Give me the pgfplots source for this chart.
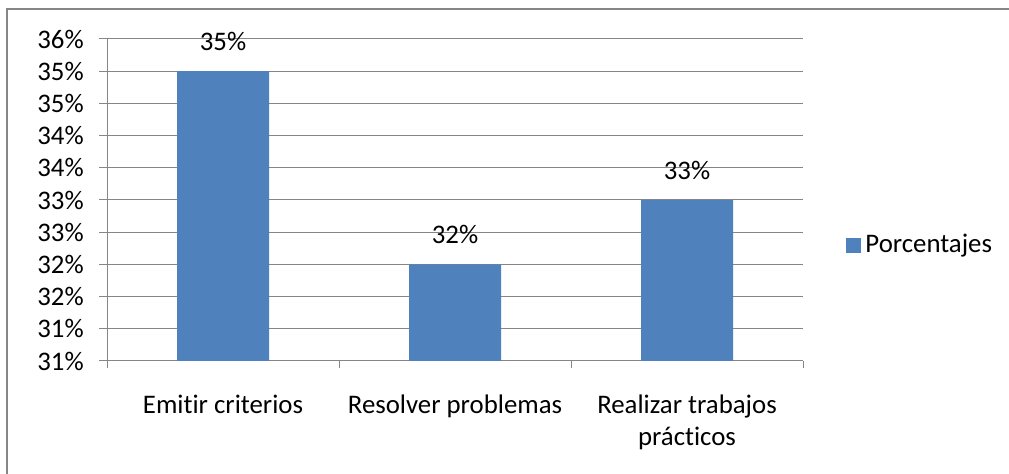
\documentclass[border=0pt]{standalone}
\usepackage{pgfplots}
\pgfplotsset{compat=1.18}
\usepackage{fontspec}
\setmainfont{Carlito}[Ligatures=NoCommon]
\definecolor{barblue}{HTML}{4F81BD}
\definecolor{gridgray}{HTML}{868686}
\begin{document}
\fontsize{13.4bp}{16bp}\selectfont
\begin{tikzpicture}[x=0.5bp,y=0.5bp]
  \useasboundingbox (0,0) rectangle (1009,474);
  % chart frame (bottom and right edges are cut off)
  \draw[gridgray, line width=1bp] (7,0) -- (7,464.5) -- (1009,464.5);
  \begin{axis}[
      at={(53.5bp,56.5bp)}, anchor=south west,
      scale only axis,
      width=348bp, height=161bp,
      ybar, bar width=46bp,
      xmin=0.5, xmax=3.5,
      ymin=30.5, ymax=35.5,
      axis lines=left,
      axis line style={draw=gridgray, line width=0.5bp, -},
      tick align=outside,
      tick style={draw=gridgray, line width=0.5bp},
      major tick length=4bp,
      minor tick length=3.5bp,
      ytick={30.5,31,31.5,32,32.5,33,33.5,34,34.5,35,35.5},
      yticklabels={31\%,31\%,32\%,32\%,33\%,33\%,34\%,34\%,35\%,35\%,36\%},
      yticklabel style={xshift=-3bp},
      xtick={1,2,3},
      xticklabels={Emitir criterios,Resolver problemas,{Realizar trabajos\\prácticos}},
      xticklabel style={align=center, yshift=-8.5bp},
      major x tick style={draw=none},
      minor xtick={0.5,1.5,2.5,3.5},
      ymajorgrids=true,
      grid style={draw=gridgray, line width=0.5bp},
      nodes near coords={\pgfmathprintnumber[assume math mode=true,fixed,precision=0]{\pgfplotspointmeta}\%},
      every node near coord/.append style={yshift=5.5bp, text=black},
      legend entries={Porcentajes},
      legend style={draw=none, fill=none, inner sep=0pt,
        at={(1.0618,0.36)}, anchor=west},
      legend image code/.code={\fill[barblue] (0bp,-3.75bp) rectangle (7.5bp,3.75bp);},
      clip=false,
    ]
    \addplot[fill=barblue, draw=none] coordinates {(1,35) (2,32) (3,33)};
  \end{axis}
\end{tikzpicture}
\end{document}
